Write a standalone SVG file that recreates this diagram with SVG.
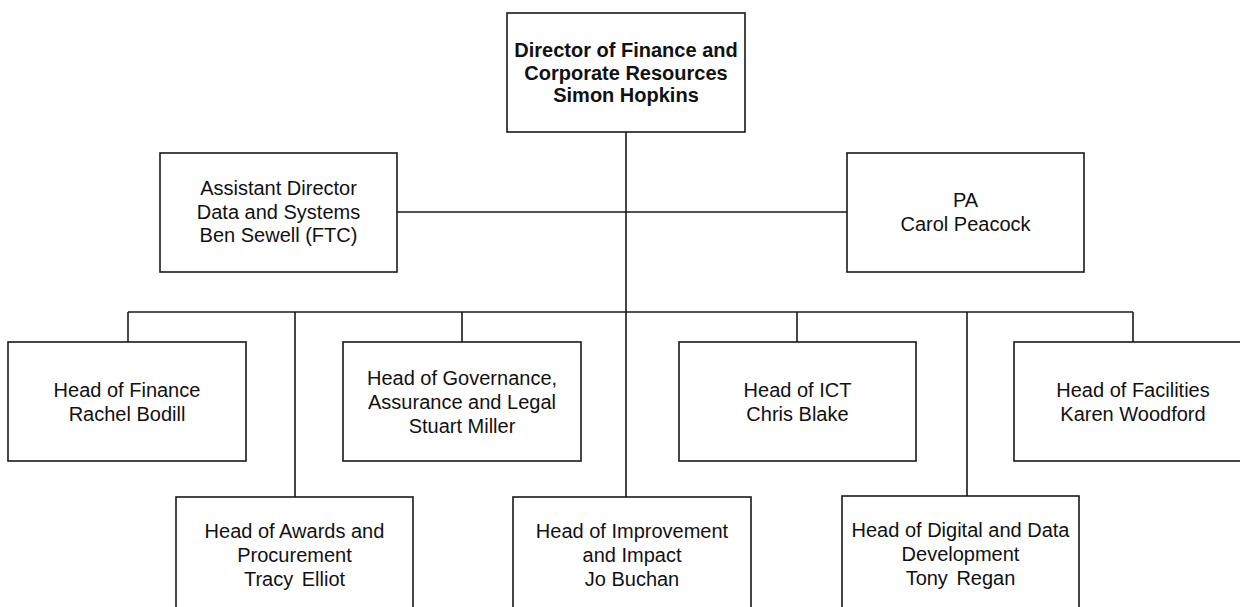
<svg xmlns="http://www.w3.org/2000/svg" width="1240" height="607" viewBox="0 0 1240 607">
<style>
.box{fill:#fff;stroke:#1a1a1a;stroke-width:1.6}
.ln{fill:none;stroke:#1a1a1a;stroke-width:1.6}
text{font-family:"Liberation Sans",Arial,sans-serif;font-size:20px;fill:#111;text-anchor:middle}
.b{font-weight:bold}
</style>
<rect width="1240" height="607" fill="#fff"/>
<g id="connectors">
<path class="ln" d="M626 132V497M397 212H847M128 312H1133M128 312V342M295 312V497M462 312V342M797 312V342M967 312V496M1133 312V342"/>
</g>
<g id="director">
<rect class="box" x="507" y="13" width="238" height="119"/>
<text class="b" x="626" y="57">Director of Finance and</text>
<text class="b" x="626" y="80">Corporate Resources</text>
<text class="b" x="626" y="102">Simon Hopkins</text>
</g>
<g id="assistant">
<rect class="box" x="160" y="153" width="237" height="119"/>
<text x="278.5" y="195">Assistant Director</text>
<text x="278.5" y="219">Data and Systems</text>
<text x="278.5" y="242">Ben Sewell (FTC)</text>
</g>
<g id="pa">
<rect class="box" x="847" y="153" width="237" height="119"/>
<text x="965.5" y="207">PA</text>
<text x="965.5" y="231">Carol Peacock</text>
</g>
<g id="finance">
<rect class="box" x="8" y="342" width="238" height="119"/>
<text x="127" y="397">Head of Finance</text>
<text x="127" y="421">Rachel Bodill</text>
</g>
<g id="governance">
<rect class="box" x="343" y="342" width="238" height="119"/>
<text x="462" y="385">Head of Governance,</text>
<text x="462" y="409">Assurance and Legal</text>
<text x="462" y="433">Stuart Miller</text>
</g>
<g id="ict">
<rect class="box" x="679" y="342" width="237" height="119"/>
<text x="797.5" y="397">Head of ICT</text>
<text x="797.5" y="421">Chris Blake</text>
</g>
<g id="facilities">
<rect class="box" x="1014" y="342" width="238" height="119"/>
<text x="1133" y="397">Head of Facilities</text>
<text x="1133" y="421">Karen Woodford</text>
</g>
<g id="awards">
<rect class="box" x="176" y="497" width="237" height="119"/>
<text x="294.5" y="538">Head of Awards and</text>
<text x="294.5" y="562">Procurement</text>
<text x="294.5" y="586" word-spacing="3">Tracy Elliot</text>
</g>
<g id="improvement">
<rect class="box" x="513" y="497" width="238" height="119"/>
<text x="632" y="538">Head of Improvement</text>
<text x="632" y="562">and Impact</text>
<text x="632" y="586">Jo Buchan</text>
</g>
<g id="digital">
<rect class="box" x="842" y="496" width="237" height="120"/>
<text x="960.5" y="537">Head of Digital and Data</text>
<text x="960.5" y="561">Development</text>
<text x="960.5" y="585" word-spacing="3">Tony Regan</text>
</g>
</svg>
